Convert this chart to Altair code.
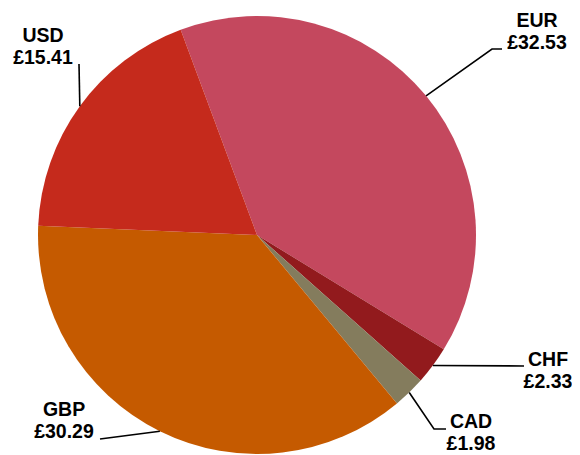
import math
import altair as alt
import pandas as pd

# ---- data ----
currencies = ["EUR", "CHF", "CAD", "GBP", "USD"]
amounts = [32.53, 2.33, 1.98, 30.29, 15.41]
value_labels = ["£32.53", "£2.33", "£1.98", "£30.29", "£15.41"]
colors = ["#C4485E", "#921A1D", "#847C5D", "#C55A00", "#C52A1C"]

# ---- layout (plot-area pixels) ----
W, H = 564, 447
CX, CY, R = 249, 227, 219
START_DEG = -20.4
label_elbow = [(484, 41), (516, 358), (426, 421), (92, 431), (71, 56)]
label_end = [(494, 41), (516, 358), (438, 421), (92, 431), (71, 56)]
label_x = [529, 540, 463, 56, 35]
label_value_y = [41, 380, 442, 430, 56]
LINE_GAP = 22
FONT = "Liberation Sans"
FS = 19.5

total = sum(amounts)
start_rad = math.radians(START_DEG)

slices = pd.DataFrame({"currency": currencies, "amount": amounts,
                       "idx": list(range(len(currencies)))})

# leader lines start at the pie edge at each slice's mid angle
rows, labels = [], []
cum = 0.0
for i, (c, a) in enumerate(zip(currencies, amounts)):
    mid = start_rad + 2 * math.pi * (cum + a / 2) / total
    cum += a
    ex, ey = CX + R * math.sin(mid), CY - R * math.cos(mid)
    pts = [(ex, ey), label_elbow[i], label_end[i]]
    for k, (px, py) in enumerate(pts):
        rows.append({"currency": c, "pt": k, "x": px, "y": py})
    labels.append({"currency": c, "value": value_labels[i], "tx": label_x[i],
                   "vy": label_value_y[i], "ny": label_value_y[i] - LINE_GAP})
lines = pd.DataFrame(rows)
labs = pd.DataFrame(labels)

xs = alt.Scale(domain=[0, W], nice=False, zero=False)
ys = alt.Scale(domain=[0, H], nice=False, zero=False, reverse=True)

pie = alt.Chart(slices).mark_arc(radius=R).encode(
    theta=alt.Theta("amount:Q", stack=True,
                    scale=alt.Scale(range=[start_rad, start_rad + 2 * math.pi])),
    order=alt.Order("idx:Q"),
    color=alt.Color("currency:N", scale=alt.Scale(domain=currencies, range=colors), legend=None),
    x=alt.value(CX), y=alt.value(CY),
)

leaders = alt.Chart(lines).mark_line(color="#000000", strokeWidth=1.6).encode(
    x=alt.X("x:Q", scale=xs, axis=None),
    y=alt.Y("y:Q", scale=ys, axis=None),
    detail="currency:N",
    order="pt:Q",
)

names = alt.Chart(labs).mark_text(font=FONT, fontSize=FS, fontWeight="bold", color="#000000",
                                  align="center", baseline="alphabetic").encode(
    x=alt.X("tx:Q", scale=xs, axis=None),
    y=alt.Y("ny:Q", scale=ys, axis=None),
    text="currency:N",
)
vals = alt.Chart(labs).mark_text(font=FONT, fontSize=FS, fontWeight="bold", color="#000000",
                                 align="center", baseline="alphabetic").encode(
    x=alt.X("tx:Q", scale=xs, axis=None),
    y=alt.Y("vy:Q", scale=ys, axis=None),
    text="value:N",
)

chart = alt.layer(pie, leaders, names, vals).properties(
    width=W, height=H, padding=0, autosize=alt.AutoSizeParams(type="none")
).configure_view(stroke=None)

chart.save("out.html", embed_options={"renderer": "svg", "actions": False})
